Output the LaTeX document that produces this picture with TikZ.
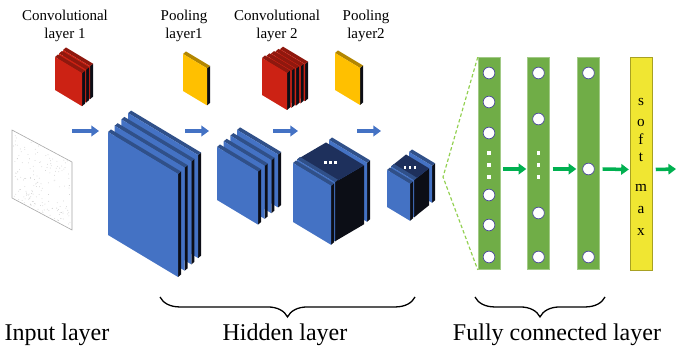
\documentclass[tikz,border=0pt]{standalone}
\usepackage{fontspec}
\setmainfont{Liberation Serif}
\usetikzlibrary{arrows.meta,decorations.pathreplacing}
\definecolor{convred}{RGB}{204,34,20}
\definecolor{poolyellow}{RGB}{255,192,0}
\definecolor{mapblue}{RGB}{68,114,196}
\definecolor{mapnavy}{RGB}{30,48,92}
\definecolor{mapblack}{RGB}{12,14,22}
\definecolor{fcgreen}{RGB}{112,173,71}
\definecolor{dashgreen}{RGB}{146,208,80}
\definecolor{smyellow}{RGB}{240,230,50}
\definecolor{arrowgreen}{RGB}{0,176,80}
\tikzset{
		% text above and below the layers
		top label/.style={font=\fontsize{12.8}{15.5}\selectfont,align=center,anchor=north,inner sep=0pt},
		layer label/.style={font=\fontsize{20.5}{24}\selectfont,anchor=base,inner sep=0pt},
		% arrows between the layers
		blue arrow/.style={draw=mapblue,line width=3pt,-{Triangle[length=6.5pt,width=9pt]}},
		green arrow/.style={draw=arrowgreen,line width=3pt,-{Triangle[length=6.5pt,width=9pt]}},
		% fully connected part
		fc bar/.style={rectangle,fill=fcgreen,draw=fcgreen!65!white,line width=0.5pt,minimum width=18.7pt,minimum height=181pt,inner sep=0},
		softmax bar/.style={rectangle,fill=smyellow,draw=smyellow!70!black,line width=0.5pt,minimum width=18.7pt,minimum height=182pt,inner sep=0},
		neuron/.style={circle,fill=white,draw=black!25!blue!40!gray,line width=0.6pt,minimum size=10pt,inner sep=0},
		skip dot/.style={rectangle,fill=white,minimum size=2.6pt,inner sep=0},
		sm letter/.style={font=\fontsize{13}{15}\selectfont,anchor=base,inner sep=0pt},
		layer brace/.style={decorate,decoration={brace,mirror,amplitude=17pt},line width=1.1pt}
	}
% one feature map: top left corner x, y, width, height, colour
\newcommand{\drawslab}[5]{%
	\fill[mapblack] (#1+#3,#2+0.6*#3) -- ++(3,-2.5) -- ++(0,#4) -- ++(-3,2.5) -- cycle;
	\fill[#5!70!black] (#1,#2) -- ++(3,-2.5) -- ++(#3,0.6*#3) -- ++(-3,2.5) -- cycle;
	\fill[#5] (#1,#2) -- ++(#3,0.6*#3) -- ++(0,#4) -- ++(-#3,-0.6*#3) -- cycle;
}
% a stack of maps: x, y, width, height, colour, count, dx, dy
\newcommand{\drawstack}[8]{%
	\foreach \k in {#6,...,1}{
		\pgfmathsetmacro{\sx}{#1+(\k-1)*#7}
		\pgfmathsetmacro{\sy}{#2+(\k-1)*#8}
		\drawslab{\sx}{\sy}{#3}{#4}{#5}
	}
}
% a deep block of maps: x, y, width, height, depth dx, depth dy
\newcommand{\drawcube}[6]{%
	\pgfmathsetmacro{\bx}{#1+#5}
	\pgfmathsetmacro{\by}{#2+#6}
	\drawslab{\bx}{\by}{#3}{#4}{mapblue}
	\fill[mapblack] (#1+4+#3,#2-3.5+0.6*#3) -- (\bx-3+#3,\by+2.5+0.6*#3) -- ++(0,#4) -- (#1+4+#3,#2-3.5+0.6*#3+#4) -- cycle;
	\fill[mapnavy] (#1+4,#2-3.5) -- (\bx-3,\by+2.5) -- ++(#3,0.6*#3) -- (#1+4+#3,#2-3.5+0.6*#3) -- cycle;
	\drawslab{#1+4}{#2-3.5}{#3}{#4}{mapblue}
	\drawslab{#1}{#2}{#3}{#4}{mapblue}
	\pgfmathsetmacro{\cx}{(#1+4+\bx-3+#3)/2}
	\pgfmathsetmacro{\cy}{(#2-3.5+\by+2.5+0.6*#3)/2}
	\foreach \d in {-5,0,5}{\fill[white] (\cx+\d-1.3,\cy-1.3) rectangle ++(2.6,2.6);}
}

\begin{document}
\begin{tikzpicture}[x=0.03cm,y=-0.03cm]
	\useasboundingbox (0,0) rectangle (676,349);

	% labels over the small blocks
	\node[top label] (conv1lbl) at (65,9.5) {Convolutional\\layer 1};
	\node[top label] (pool1lbl) at (184,9.5) {Pooling\\layer1};
	\node[top label] (conv2lbl) at (277,9.5) {Convolutional\\layer 2};
	\node[top label] (pool2lbl) at (366,9.5) {Pooling\\layer2};

	% kernels
	\drawstack{55}{57}{27}{33}{convred}{3}{4}{-3.5}
	\drawslab{183}{54}{24}{37}{poolyellow}
	\drawstack{262}{58}{25}{37}{convred}{5}{4.5}{-2.2}
	\drawslab{335}{53}{25}{37}{poolyellow}

	% input picture
	\fill[white] (12,130) -- ++(60,32) -- ++(0,68) -- ++(-60,-32) -- cycle;
	\pgfmathsetseed{12}
	\foreach \k in {1,...,170}{
		\pgfmathsetmacro{\px}{13+58*rnd}
		\pgfmathsetmacro{\py}{131+0.53*(\px-12)+66*rnd}
		\fill[gray!45] (\px,\py) circle (0.4);
	}
	\draw[gray!70,line width=0.5pt] (12,130) -- ++(60,32) -- ++(0,68) -- ++(-60,-32) -- cycle;

	% feature maps
	\drawstack{108}{132}{70}{103}{mapblue}{4}{6.7}{-6.3}
	\drawstack{217}{147}{41}{53}{mapblue}{4}{6.7}{-5.7}
	\drawcube{293}{163}{38}{59}{36}{-23}
	\drawcube{387}{170}{23}{37}{22}{-18}

	\coordinate (b1s) at (72,131);  \coordinate (b1e) at (99,131);
	\coordinate (b2s) at (185,131); \coordinate (b2e) at (209,131);
	\coordinate (b3s) at (273,131); \coordinate (b3e) at (298,131);
	\coordinate (b4s) at (357,131); \coordinate (b4e) at (381,131);
	\foreach \a in {1,...,4}
		\draw[blue arrow] (b\a s) -- (b\a e);

	% fully connected layers
	\node[fc bar] (fc1) at (489,163.5) {};
	\node[fc bar] (fc2) at (538.5,163.5) {};
	\node[fc bar] (fc3) at (588.5,163.5) {};
	\node[softmax bar] (sm) at (641,164) {};
	\foreach \y [count=\i] in {73,102,133,195,225,257}
		\node[neuron] (n1-\i) at (489,\y) {};
	\foreach \y [count=\i] in {73,119,213,257}
		\node[neuron] (n2-\i) at (538.5,\y) {};
	\foreach \y [count=\i] in {73,169,257}
		\node[neuron] (n3-\i) at (588.5,\y) {};
	\foreach \y [count=\i] in {153,165,177}{
		\node[skip dot] (d1-\i) at (489,\y) {};
		\node[skip dot] (d2-\i) at (538.5,\y) {};
	}
	\foreach \ch/\y [count=\i] in {s/106,o/127,f/145,t/162,m/192,a/214,x/236}
		\node[sm letter] (sm\i) at (641,\y) {\ch};

	\coordinate (fcv) at (443,177);
	\draw[dashgreen,line width=1pt,dash pattern=on 3pt off 2pt] (fc1.north west) -- (fcv) -- (fc1.south west);

	\draw[green arrow] ([xshift=2.5pt,yshift=-4.7pt]fc1.east) -- ([xshift=-0.8pt,yshift=-4.7pt]fc2.west);
	\draw[green arrow] ([xshift=2.5pt,yshift=-4.7pt]fc2.east) -- ([xshift=-0.8pt,yshift=-4.7pt]fc3.west);
	\draw[green arrow] ([xshift=2.5pt,yshift=-4.7pt]fc3.east) -- ([xshift=-0.8pt,yshift=-4.7pt]sm.west);
	\coordinate (out) at (676,169);
	\draw[green arrow] ([xshift=3pt,yshift=-4.7pt]sm.east) -- (out);

	% braces and layer names
	\draw[layer brace] (160,297) -- (415,297);
	\draw[layer brace] (475,297) -- (605,297);
	\node[layer label] (inlbl) at (57,341) {Input layer};
	\node[layer label] (hidlbl) at (285,341) {Hidden layer};
	\node[layer label] (fclbl) at (557,341) {Fully connected layer};
\end{tikzpicture}
\end{document}
